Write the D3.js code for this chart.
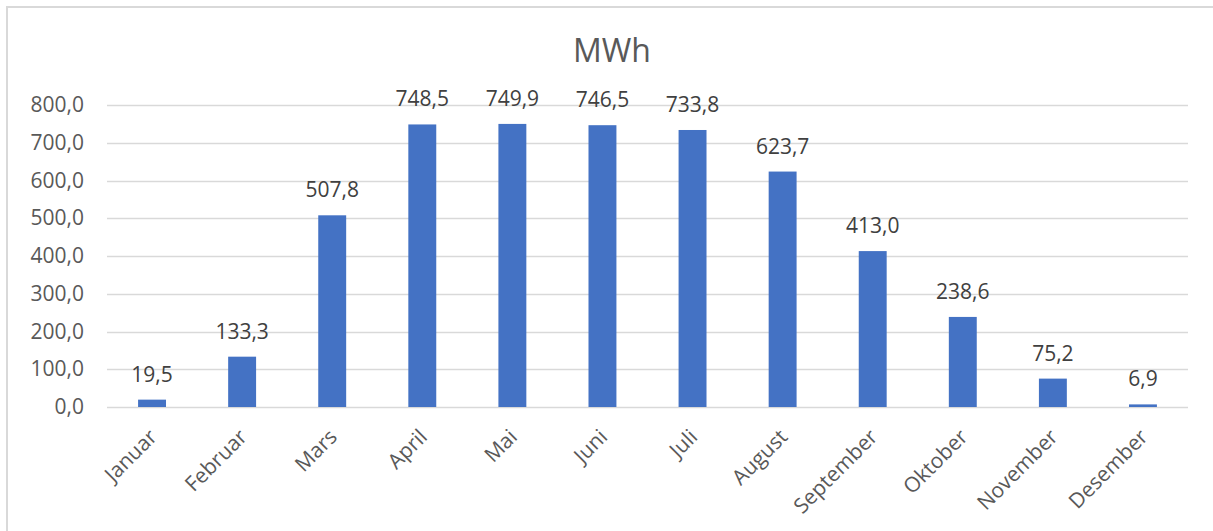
<!DOCTYPE html>
<html>
<head>
<meta charset="utf-8">
<script src="https://cdn.jsdelivr.net/npm/d3@7"></script>
<style>
  html, body { margin: 0; padding: 0; background: #fff; }
  svg { display: block; }
  text { font-family: "Open Sans", "Noto Sans", sans-serif; }
</style>
</head>
<body>
<svg id="chart" width="1213" height="531"></svg>
<script>
// Monthly production, MWh
const months = ["Januar", "Februar", "Mars", "April", "Mai", "Juni", "Juli",
                "August", "September", "Oktober", "November", "Desember"];
const mwh = [19.5, 133.3, 507.8, 748.5, 749.9, 746.5, 733.8, 623.7, 413.0, 238.6, 75.2, 6.9];
const yTicks = [0, 100, 200, 300, 400, 500, 600, 700, 800];
const title = "MWh";

const fmt = v => d3.format(".1f")(v).replace(".", ",");

const svg = d3.select("#chart");
const W = 1213, H = 531;
const plot = { left: 107, right: 1188, top: 105, bottom: 407 };

svg.append("rect").attr("width", W).attr("height", H).attr("fill", "#fff");
// outer chart frame
svg.append("rect")
  .attr("x", 7).attr("y", 7).attr("width", W + 10).attr("height", H + 10)
  .attr("fill", "none").attr("stroke", "#d9d9d9").attr("stroke-width", 2);

const x = d3.scaleBand().domain(months).range([plot.left, plot.right]).paddingInner(0.69).paddingOuter(0.345);
const y = d3.scaleLinear().domain([0, 800]).range([plot.bottom, plot.top]);

// gridlines
svg.append("g").selectAll("line").data(yTicks).join("line")
  .attr("x1", plot.left).attr("x2", plot.right)
  .attr("y1", d => Math.round(y(d)) + 0.5).attr("y2", d => Math.round(y(d)) + 0.5)
  .attr("stroke", "#d9d9d9").attr("stroke-width", 1.5);

// y axis labels
const yAxis = d3.axisLeft(y).tickValues(yTicks).tickFormat(fmt).tickSize(0).tickPadding(23);
svg.append("g").attr("transform", `translate(${plot.left},0)`).call(yAxis)
  .call(g => g.select(".domain").remove())
  .call(g => g.selectAll("text").attr("fill", "#595959").style("font-size", "21px")
    .style("font-family", "'Open Sans', sans-serif"));

// bars
svg.append("g").selectAll("rect").data(months).join("rect")
  .attr("x", d => x(d))
  .attr("width", x.bandwidth())
  .attr("y", (d, i) => y(mwh[i]))
  .attr("height", (d, i) => y(0) - y(mwh[i]))
  .attr("fill", "#4472c4");

// value labels
svg.append("g").selectAll("text").data(months).join("text")
  .attr("x", d => x(d) + x.bandwidth() / 2)
  .attr("y", (d, i) => y(mwh[i]) - 18)
  .attr("text-anchor", "middle")
  .attr("fill", "#404040")
  .style("font-size", "21px")
  .text((d, i) => fmt(mwh[i]));

// category labels, rotated
const xAxis = d3.axisBottom(x).tickSize(0).tickPadding(0);
svg.append("g").attr("transform", `translate(0,${plot.bottom})`).call(xAxis)
  .call(g => g.select(".domain").remove())
  .call(g => g.selectAll("text")
    .attr("fill", "#595959").style("font-size", "21px")
    .style("font-family", "'Open Sans', sans-serif")
    .attr("text-anchor", "end")
    .attr("dy", "0.35em")
    .attr("transform", "translate(1,26) rotate(-45)"));

// title
svg.append("text")
  .attr("x", 612).attr("y", 62)
  .attr("text-anchor", "middle")
  .attr("fill", "#595959")
  .style("font-size", "32px")
  .text(title);
</script>
</body>
</html>
